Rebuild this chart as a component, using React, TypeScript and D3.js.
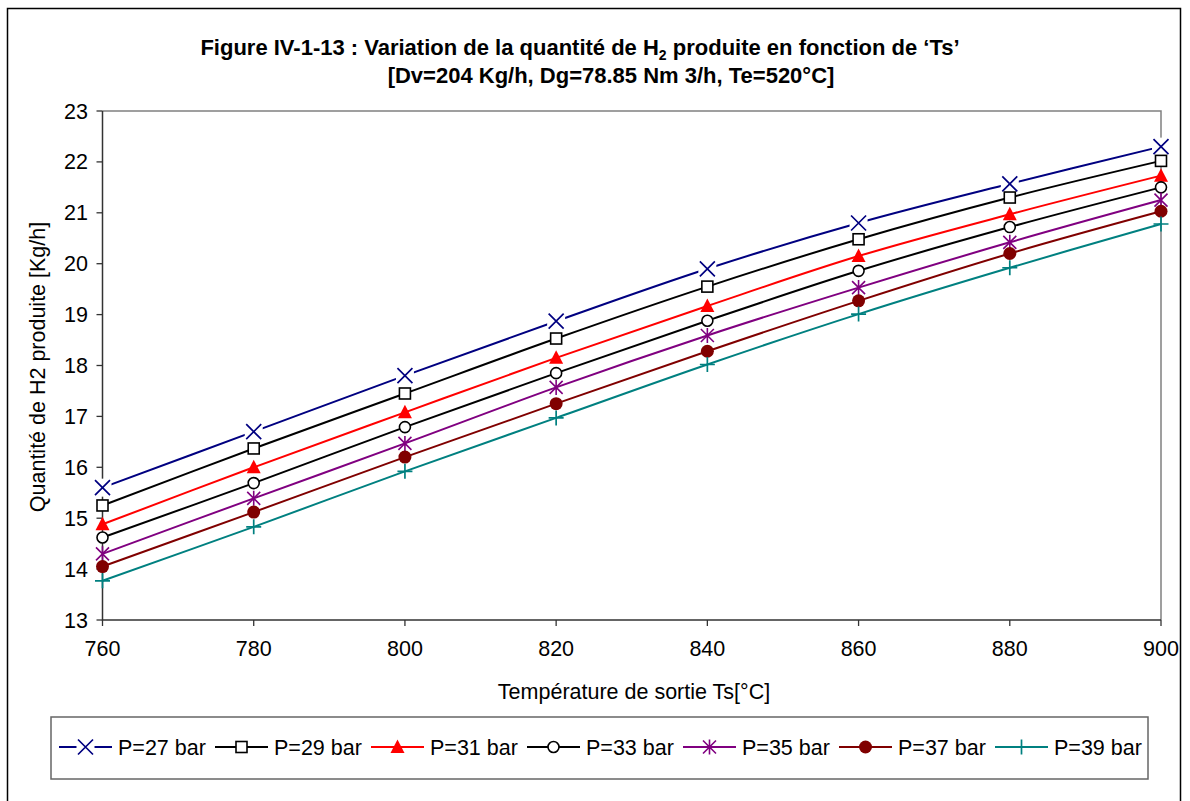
import React from "react";
import * as d3 from "d3";

const temps = [760, 780, 800, 820, 840, 860, 880, 900];
const p27 = [15.6, 16.7, 17.8, 18.87, 19.9, 20.8, 21.57, 22.3];
const p29 = [15.25, 16.37, 17.45, 18.53, 19.55, 20.48, 21.3, 22.02];
const p31 = [14.88, 16.0, 17.08, 18.15, 19.17, 20.15, 20.97, 21.73];
const p33 = [14.62, 15.69, 16.79, 17.85, 18.88, 19.86, 20.72, 21.5];
const p35 = [14.3, 15.39, 16.47, 17.57, 18.59, 19.53, 20.42, 21.25];
const p37 = [14.05, 15.12, 16.2, 17.25, 18.28, 19.27, 20.2, 21.03];
const p39 = [13.77, 14.83, 15.92, 16.97, 18.02, 19.01, 19.92, 20.78];
const seriesNames = ["P=27 bar", "P=29 bar", "P=31 bar", "P=33 bar", "P=35 bar", "P=37 bar", "P=39 bar"];
const yTicks = [13, 14, 15, 16, 17, 18, 19, 20, 21, 22, 23];
const xTicks = [760, 780, 800, 820, 840, 860, 880, 900];

const seriesValues = [p27, p29, p31, p33, p35, p37, p39];
const colors = ["#000080", "#000000", "#FF0000", "#000000", "#800080", "#800000", "#008080"];
const markers = ["x", "square", "triangle", "circle", "star", "dot", "plus"];

const FONT = "'Liberation Sans', Arial, sans-serif";

function Marker({ type, x, y, color }: { type: string; x: number; y: number; color: string }) {
  const s = 7.5;
  switch (type) {
    case "x":
      return (
        <g>
          <rect x={x - 9} y={y - 9} width={18} height={18} fill="#fff" />
          <path d={`M${x - s},${y - s}L${x + s},${y + s}M${x - s},${y + s}L${x + s},${y - s}`} stroke={color} strokeWidth={1.7} />
        </g>
      );
    case "square":
      return <rect x={x - 5.5} y={y - 5.5} width={11} height={11} fill="#fff" stroke={color} strokeWidth={1.6} />;
    case "triangle":
      return <path d={`M${x},${y - 7.5}L${x + 7},${y + 6}L${x - 7},${y + 6}Z`} fill={color} />;
    case "circle":
      return <circle cx={x} cy={y} r={5.5} fill="#fff" stroke={color} strokeWidth={1.6} />;
    case "star":
      return (
        <path
          d={`M${x},${y - 7.5}L${x},${y + 7.5}M${x - 6.5},${y - 6.5}L${x + 6.5},${y + 6.5}M${x - 6.5},${y + 6.5}L${x + 6.5},${y - 6.5}`}
          stroke={color}
          strokeWidth={1.6}
        />
      );
    case "dot":
      return <circle cx={x} cy={y} r={6.5} fill={color} />;
    case "plus":
      return <path d={`M${x - 7.5},${y}L${x + 7.5},${y}M${x},${y - 7.5}L${x},${y + 7.5}`} stroke={color} strokeWidth={1.7} />;
  }
  return null;
}

export default function App() {
  const W = 1190, H = 801;
  const left = 102.5, right = 1161, top = 111, bottom = 620;
  const x = d3.scaleLinear().domain([760, 900]).range([left, right]);
  const y = d3.scaleLinear().domain([13, 23]).range([bottom, top]);
  const line = d3
    .line<number>()
    .x((_, i) => x(temps[i]))
    .y((d) => y(d))
    .curve(d3.curveCatmullRom.alpha(0));

  const legendX0 = 59, legendStep = 156, legendY = 747;
  const FS = 21.5;

  return (
    <svg width={W} height={H} style={{ position: "absolute", left: 0, top: 0 }} fontFamily={FONT}>
      <rect x={0} y={0} width={W} height={H} fill="#fff" />
      <rect x={7.5} y={8.5} width={1173} height={800} fill="#fff" stroke="#000" strokeWidth={1.5} />
      <text x={580} y={55} textAnchor="middle" fontSize={22} fontWeight="bold">
        Figure IV-1-13 : Variation de la quantité de H
        <tspan fontSize={14} dy={5}>2</tspan>
        <tspan dy={-5}> produite en fonction de ‘Ts’</tspan>
      </text>
      <text x={611} y={83} textAnchor="middle" fontSize={22} fontWeight="bold">
        [Dv=204 Kg/h, Dg=78.85 Nm 3/h, Te=520°C]
      </text>

      {/* plot area border */}
      <path d={`M${left},${top}H${right}V${bottom}`} fill="none" stroke="#808080" strokeWidth={1.5} />
      {/* axes */}
      <path d={`M${left},${top}V${bottom}H${right}`} fill="none" stroke="#333" strokeWidth={1.5} />
      {yTicks.map((t) => (
        <g key={"y" + t}>
          <line x1={left - 6} x2={left} y1={y(t)} y2={y(t)} stroke="#333" strokeWidth={1.3} />
          <text x={88} y={y(t)} dy="0.35em" textAnchor="end" fontSize={FS}>
            {t}
          </text>
        </g>
      ))}
      {xTicks.map((t) => (
        <g key={"x" + t}>
          <line x1={x(t)} x2={x(t)} y1={bottom} y2={bottom + 6} stroke="#333" strokeWidth={1.3} />
          <text x={x(t)} y={648} dy="0.35em" textAnchor="middle" fontSize={FS}>
            {t}
          </text>
        </g>
      ))}
      <text x={634} y={691} dy="0.35em" textAnchor="middle" fontSize={FS}>
        Température de sortie Ts[°C]
      </text>
      <text transform={`translate(37,367) rotate(-90)`} dy="0.35em" textAnchor="middle" fontSize={FS}>
        Quantité de H2 produite [Kg/h]
      </text>

      {seriesValues.map((vals, si) => (
        <path key={"l" + si} d={line(vals) || ""} fill="none" stroke={colors[si]} strokeWidth={2} />
      ))}
      {seriesValues.map((vals, si) => (
        <g key={"m" + si}>
          {vals.map((v, i) => (
            <Marker key={i} type={markers[si]} x={x(temps[i])} y={y(v)} color={colors[si]} />
          ))}
        </g>
      ))}

      {/* legend */}
      <rect x={51} y={717} width={1097} height={62} fill="#fff" stroke="#666" strokeWidth={1.5} />
      {seriesNames.map((name, i) => {
        const lx = legendX0 + i * legendStep;
        return (
          <g key={"lg" + i}>
            <line x1={lx} x2={lx + 53} y1={legendY} y2={legendY} stroke={colors[i]} strokeWidth={2} />
            <Marker type={markers[i]} x={lx + 26.5} y={legendY} color={colors[i]} />
            <text x={lx + 59} y={legendY} dy="0.35em" fontSize={FS}>
              {name}
            </text>
          </g>
        );
      })}
    </svg>
  );
}
